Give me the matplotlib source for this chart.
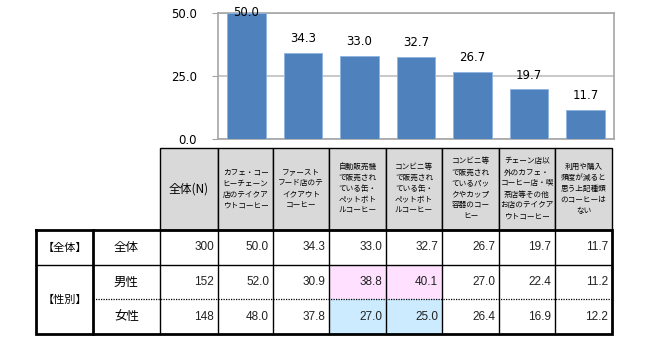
import matplotlib
matplotlib.use("Agg")
import matplotlib.pyplot as plt
from matplotlib.patches import Rectangle

plt.rcParams['font.family'] = ['Noto Sans CJK JP', 'DejaVu Sans']

# --- data -------------------------------------------------------------
categories = [
    "カフェ・コー\nヒーチェーン\n店のテイクア\nウトコーヒー",
    "ファースト\nフード店のテ\nイクアウト\nコーヒー",
    "自動販売機\nで販売され\nている缶・\nペットボト\nルコーヒー",
    "コンビニ等\nで販売され\nている缶・\nペットボト\nルコーヒー",
    "コンビニ等\nで販売され\nているパッ\nクやカップ\n容器のコー\nヒー",
    "チェーン店以\n外のカフェ・\nコーヒー店・喫\n茶店等その他\nお店のテイクア\nウトコーヒー",
    "利用や購入\n頻度が減ると\n思う上記種類\nのコーヒーは\nない",
]
total_pct = [50.0, 34.3, 33.0, 32.7, 26.7, 19.7, 11.7]
male_pct = [52.0, 30.9, 38.8, 40.1, 27.0, 22.4, 11.2]
female_pct = [48.0, 37.8, 27.0, 25.0, 26.4, 16.9, 12.2]
n_total, n_male, n_female = 300, 152, 148
y_ticks = [0.0, 25.0, 50.0]

# highlighted cells: (row index, column index) -> colour
highlights = {(1, 2): '#FFE1FF', (1, 3): '#FFE1FF',
              (2, 2): '#CCEBFF', (2, 3): '#CCEBFF'}

W, H = 648, 345
fig = plt.figure(figsize=(W / 100, H / 100), dpi=100)

# --- bar chart --------------------------------------------------------
px_left, px_right, px_top, px_bot = 218, 614, 13, 139
ax = fig.add_axes([px_left / W, 1 - px_bot / H,
                   (px_right - px_left) / W, (px_bot - px_top) / H])
x = range(len(total_pct))
ax.bar(x, total_pct, width=0.68, color='#4F81BD', edgecolor='#8DB3E2',
       linewidth=0.6, zorder=3)
ax.set_xlim(-0.5, len(total_pct) - 0.5)
ax.set_ylim(0, 50)
ax.set_yticks(y_ticks)
ax.set_yticklabels([f"{t:.1f}" for t in y_ticks], fontsize=8.5,
                   family=['DejaVu Sans'])
ax.set_xticks([])
ax.tick_params(axis='y', length=4, color='#A6A6A6', pad=11)
ax.grid(axis='y', color='#BFBFBF', linewidth=1.2, zorder=0)
for s in ax.spines.values():
    s.set_color('#A6A6A6')
    s.set_linewidth(1.2)

for i, v in enumerate(total_pct):
    room = (50 - v) / 50 * (px_bot - px_top)
    off = min(14, room) * 0.72
    ax.annotate(f"{v:.1f}", (i, v), xytext=(0, off), textcoords='offset points',
                ha='center', va='center', fontsize=8.5, family=['DejaVu Sans'],
                annotation_clip=False, zorder=4)

# --- table ------------------------------------------------------------
tb = fig.add_axes([0, 0, 1, 1])
tb.set_xlim(0, W)
tb.set_ylim(H, 0)
tb.axis('off')

col_edges = [160, 218, 273, 329, 386, 442, 499, 555, 612]
head_top, head_bot = 148, 230
row_edges = [230, 265, 299, 334]
left_x0, left_x1 = 36, 93

# header cells
for c0, c1 in zip(col_edges[:-1], col_edges[1:]):
    tb.add_patch(Rectangle((c0, head_top), c1 - c0, head_bot - head_top,
                           facecolor='#D9D9D9', edgecolor='black', lw=1.0))
tb.text((col_edges[0] + col_edges[1]) / 2, (head_top + head_bot) / 2,
        "全体(N)", ha='center', va='center', fontsize=8.5)
for j, lab in enumerate(categories):
    cx = (col_edges[j + 1] + col_edges[j + 2]) / 2
    tb.text(cx, (head_top + head_bot) / 2, lab, ha='center', va='center',
            fontsize=5.5, linespacing=1.5)

# data rows
rows = [(n_total, total_pct), (n_male, male_pct), (n_female, female_pct)]
row_names = ["全体", "男性", "女性"]
for r, (n, vals) in enumerate(rows):
    y0, y1 = row_edges[r], row_edges[r + 1]
    yc = (y0 + y1) / 2
    for j, v in enumerate(vals):
        col = highlights.get((r, j))
        if col:
            tb.add_patch(Rectangle((col_edges[j + 1], y0),
                                   col_edges[j + 2] - col_edges[j + 1], y1 - y0,
                                   facecolor=col, edgecolor='none'))
        tb.text(col_edges[j + 2] - 4, yc, f"{v:.1f}", ha='right', va='center',
                fontsize=8.5, family=['Liberation Sans'], color='#222222')
    tb.text(col_edges[1] - 4, yc, str(n), ha='right', va='center',
            fontsize=8.5, family=['Liberation Sans'], color='#222222')
    tb.text((left_x1 + col_edges[0]) / 2, yc, row_names[r], ha='center',
            va='center', fontsize=9)

tb.text((left_x0 + left_x1) / 2, (row_edges[0] + row_edges[1]) / 2, "【全体】",
        ha='center', va='center', fontsize=8)
tb.text((left_x0 + left_x1) / 2, (row_edges[1] + row_edges[3]) / 2, "【性別】",
        ha='center', va='center', fontsize=8)

# grid lines of the table
for xe in col_edges[:-1]:
    tb.plot([xe, xe], [row_edges[0], row_edges[-1]], color='black', lw=1.0)
tb.plot([left_x0, col_edges[-1]], [row_edges[1]] * 2, color='black', lw=1.0)
tb.plot([left_x1, col_edges[-1]], [row_edges[2]] * 2, color='black', lw=0.9,
        linestyle=(0, (1, 1)))
tb.plot([left_x1, left_x1], [row_edges[0], row_edges[-1]], color='black', lw=2.0)
tb.plot([left_x0, col_edges[-1], col_edges[-1], left_x0, left_x0],
        [row_edges[0], row_edges[0], row_edges[-1], row_edges[-1], row_edges[0]],
        color='black', lw=2.0, solid_joinstyle='miter')

fig.savefig("out.png", dpi=100)
